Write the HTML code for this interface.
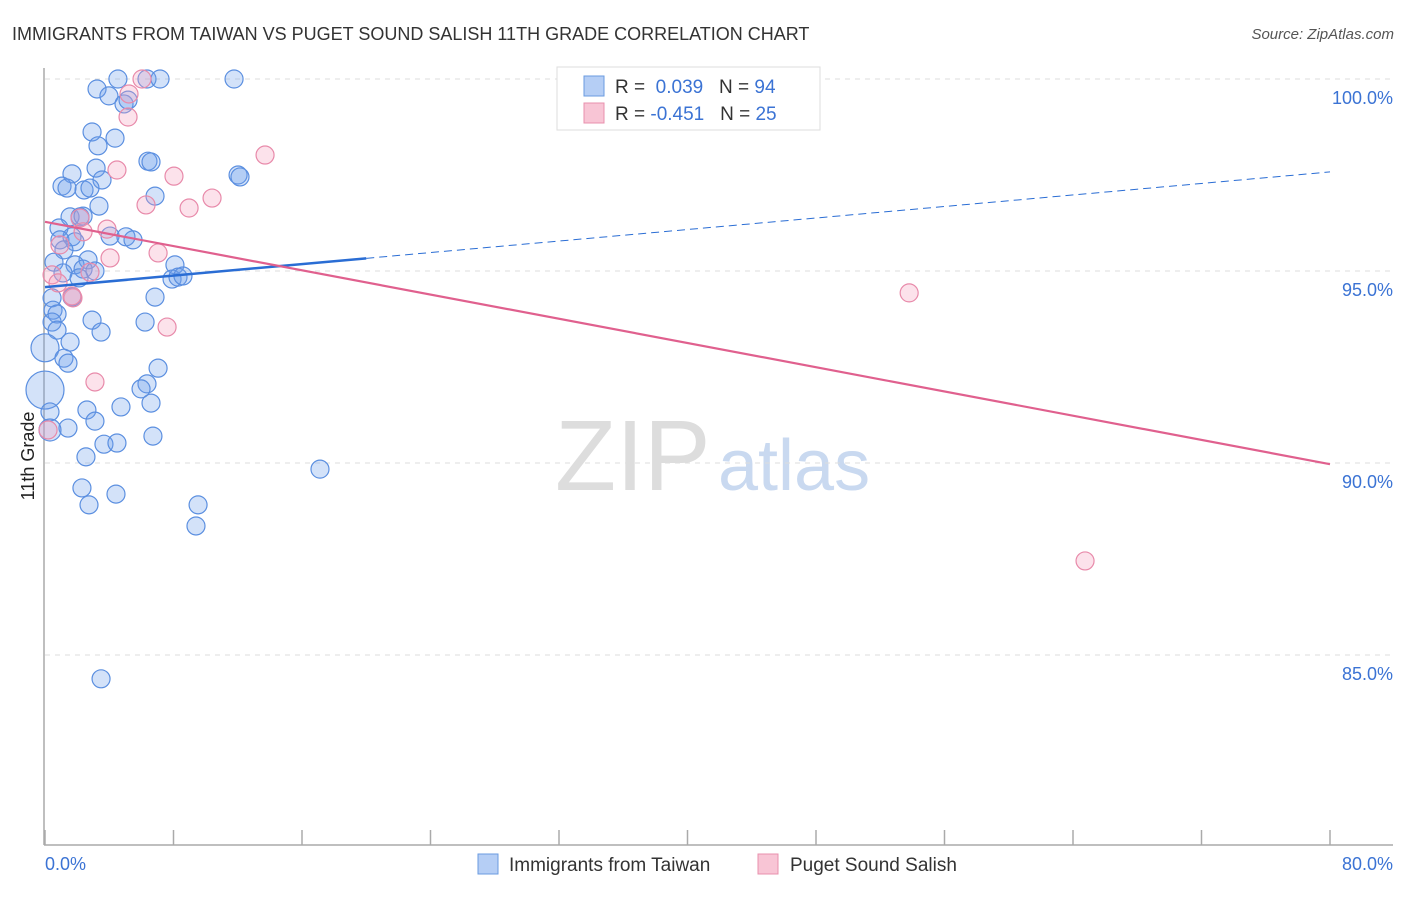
<!DOCTYPE html>
<html><head><meta charset="utf-8"><style>
body{margin:0;background:#fff;font-family:"Liberation Sans",sans-serif;}
svg text{font-family:"Liberation Sans",sans-serif;}
</style></head><body>
<svg width="1406" height="892" viewBox="0 0 1406 892">
<text x="12" y="40" font-size="18" fill="#333">IMMIGRANTS FROM TAIWAN VS PUGET SOUND SALISH 11TH GRADE CORRELATION CHART</text>
<text x="1394" y="39" font-size="15" fill="#555" font-style="italic" text-anchor="end">Source: ZipAtlas.com</text>
<text x="555" y="490" font-size="100" fill="#ddd" font-family="Liberation Serif">ZIP</text>
<text x="718" y="490" font-size="72" fill="#c9d9f0">atlas</text>
<g id="grid"></g>
<line x1="44" y1="68" x2="44" y2="845" stroke="#aaa" stroke-width="1.5"/>
<line x1="44" y1="845" x2="1393" y2="845" stroke="#aaa" stroke-width="1.5"/>
<g id="xticks"></g>
<g id="pts"></g>
<g id="trends"></g>
<text transform="translate(34,456) rotate(-90)" font-size="18" fill="#222" text-anchor="middle">11th Grade</text>
<text x="45" y="870" font-size="18" fill="#3b73d4">0.0%</text>
<text x="1393" y="870" font-size="18" fill="#3b73d4" text-anchor="end">80.0%</text>
<g>
<rect x="557" y="67" width="263" height="63" fill="#fff" stroke="#ddd"/>
<rect x="584" y="76" width="20" height="20" fill="#b5cef5" stroke="#6a9be0"/>
<rect x="584" y="103" width="20" height="20" fill="#f8c5d5" stroke="#e890ad"/>
<text x="615" y="93" font-size="19" fill="#333">R = <tspan fill="#3b73d4">&#160;0.039</tspan>&#160;&#160;&#160;N = <tspan fill="#3b73d4">94</tspan></text>
<text x="615" y="120" font-size="19" fill="#333">R = <tspan fill="#3b73d4">-0.451</tspan>&#160;&#160;&#160;N = <tspan fill="#3b73d4">25</tspan></text>
</g>
<g>
<rect x="478" y="854" width="20" height="20" fill="#b5cef5" stroke="#6a9be0"/>
<text x="509" y="871" font-size="19" fill="#333">Immigrants from Taiwan</text>
<rect x="758" y="854" width="20" height="20" fill="#f8c5d5" stroke="#e890ad"/>
<text x="790" y="871" font-size="19" fill="#333">Puget Sound Salish</text>
</g>
</svg>
<script>
const yTicks=[100,95,90,85];
const yTickLabels=["100.0%","95.0%","90.0%","85.0%"];
const xTicks=[0,8,16,24,32,40,48,56,64,72,80];
const blueX=[4.54,6.35,7.16,11.77,3.24,3.98,4.92,5.17,2.93,4.36,3.30,6.41,6.60,1.68,3.18,3.55,12.02,12.14,1.06,1.37,2.43,2.80,6.85,3.36,1.56,2.18,2.37,0.87,1.68,0.93,1.87,4.05,5.04,5.48,1.18,0.56,2.68,1.87,2.37,3.11,1.12,2.12,8.09,7.91,8.28,8.59,0.44,6.85,1.68,0.50,0.75,0.44,2.93,6.23,0.75,3.49,1.56,0,1.18,1.43,7.04,0,6.35,5.98,6.60,4.73,0.31,2.61,3.11,1.43,3.67,4.48,6.72,2.55,17.12,2.30,4.42,2.74,9.53,9.40,3.49,0.31];
const blueY=[100,100,100,100,99.74,99.56,99.35,99.45,98.62,98.46,98.26,97.86,97.84,97.53,97.68,97.37,97.5,97.45,97.21,97.16,97.11,97.16,96.95,96.69,96.41,96.41,96.43,96.12,95.89,95.81,95.76,95.91,95.89,95.81,95.55,95.23,95.29,95.16,95.05,95.0,94.95,94.82,95.16,94.79,94.84,94.87,94.3,94.32,94.32,93.98,93.88,93.67,93.72,93.67,93.46,93.41,93.15,93.0,92.73,92.6,92.47,91.9,92.06,91.93,91.56,91.46,91.33,91.38,91.09,90.91,90.49,90.52,90.70,90.16,89.84,89.35,89.19,88.91,88.91,88.36,84.38,90.86];
const blueR=[9,9,9,9,9,9,9,9,9,9,9,9,9,9,9,9,9,9,9,9,9,9,9,9,9,9,9,9,9,9,9,9,9,9,9,9,9,9,9,9,9,9,9,9,9,9,9,9,9,9,9,9,9,9,9,9,9,14,9,9,9,19,9,9,9,9,9,9,9,9,9,9,9,9,9,9,9,9,9,9,9,11];
const pinkX=[6.04,5.23,5.17,13.7,4.48,8.03,6.29,8.97,10.40,2.18,3.86,2.37,7.04,4.05,0.44,2.80,0.81,1.74,7.60,3.11,0.19,53.8,64.75,1.68,0.93];
const pinkY=[100,99.61,99.01,98.02,97.63,97.47,96.72,96.64,96.90,96.38,96.09,96.02,95.47,95.34,94.90,94.97,94.69,94.30,93.54,92.11,90.86,94.43,87.45,94.35,95.68];
const blueTrend=[94.58,97.58];
const pinkTrend=[96.28,89.97];
const NS="http://www.w3.org/2000/svg";
const xs=v=>45+v/80*1285;
const ys=v=>79+(100-v)*38.4;
function mk(tag,at,parent){const e=document.createElementNS(NS,tag);for(const k in at)e.setAttribute(k,at[k]);document.getElementById(parent).appendChild(e);return e;}
yTicks.forEach((t,i)=>{
 const l=mk('line',{x1:45,x2:1393,y1:ys(t),y2:ys(t),stroke:'#ddd','stroke-dasharray':'5,5'},'grid');
 
 
 const tx=mk('text',{x:1393,y:ys(t)+25,'font-size':18,fill:'#3b73d4','text-anchor':'end'},'grid');
 tx.textContent=yTickLabels[i];
 
 
});
xTicks.forEach(t=>{
 const l=mk('line',{x1:xs(t),x2:xs(t),y1:830,y2:845,stroke:'#aaa','stroke-width':1.5},'xticks');
 
 
});
blueX.forEach((v,i)=>{
 const c=mk('circle',{cx:xs(v),cy:ys(blueY[i]),r:blueR[i],fill:'rgba(110,160,235,0.3)',stroke:'#5b8fe0','stroke-width':1.2},'pts');
 
 
});
pinkX.forEach((v,i)=>{
 const c=mk('circle',{cx:xs(v),cy:ys(pinkY[i]),r:9,fill:'rgba(245,160,190,0.3)',stroke:'#e88aaa','stroke-width':1.2},'pts');
 
 
});
const bAt=x=>blueTrend[0]+(blueTrend[1]-blueTrend[0])*x/80;
let l1=mk('line',{x1:xs(0),y1:ys(bAt(0)),x2:xs(20),y2:ys(bAt(20)),stroke:'#2a6dd4','stroke-width':2.5},'trends');


let l2=mk('line',{x1:xs(20),y1:ys(bAt(20)),x2:xs(80),y2:ys(bAt(80)),stroke:'#2a6dd4','stroke-width':1,'stroke-dasharray':'8,5'},'trends');


let l3=mk('line',{x1:xs(0),y1:ys(pinkTrend[0]),x2:xs(80),y2:ys(pinkTrend[1]),stroke:'#e0608e','stroke-width':2.2},'trends');


</script>
</body></html>
